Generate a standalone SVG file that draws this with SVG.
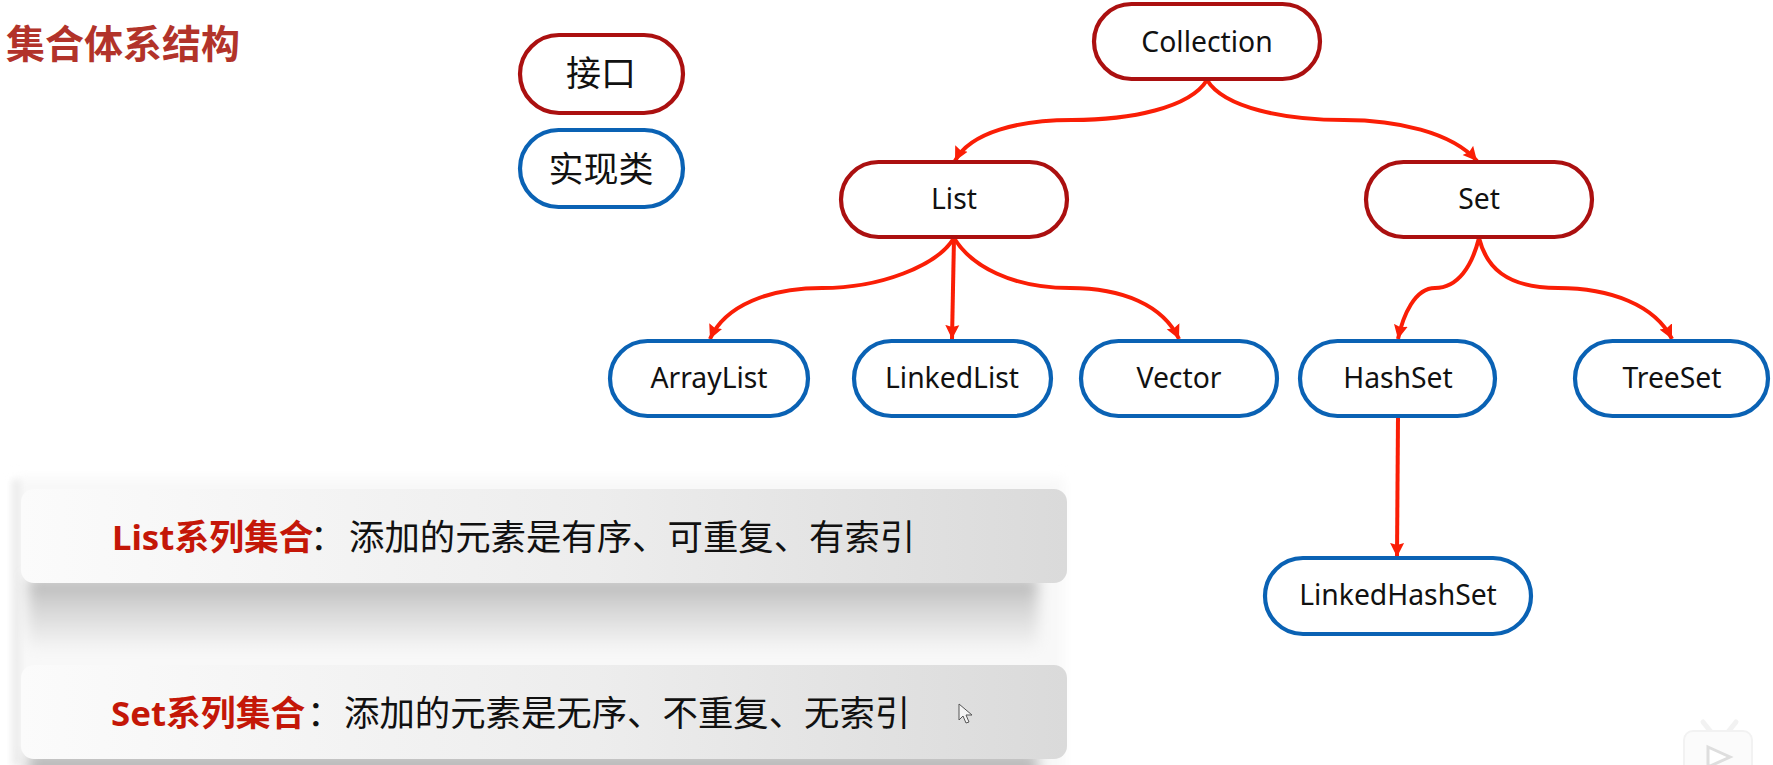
<svg xmlns="http://www.w3.org/2000/svg" width="1773" height="765" viewBox="0 0 1773 765">
<style>
text{font-family:"Noto Sans","Noto Sans CJK SC",sans-serif;fill:#111}
.n rect{fill:#fff;stroke-width:4.2}
.i rect{stroke:#ab1010}
.c rect{stroke:#0a62b4}
.n text{font-size:28.3px;text-anchor:middle}
.n text.z{font-size:35px}
.l{fill:none;stroke:#fa1e06;stroke-width:4;marker-end:url(#a)}
.t{font-size:35.4px}
.r{fill:#c41708;font-weight:700;font-size:34.8px}
</style>
<defs>
<marker id="a" markerUnits="userSpaceOnUse" markerWidth="16" markerHeight="16" refX="14" refY="8" orient="auto">
<path d="M0 1L14 8L0 15L2 8Z" fill="#fa1e06"/>
</marker>
<linearGradient id="g" x1="0" x2="1" y1="0" y2="0"><stop offset="0" stop-color="#fbfbfb"/><stop offset=".55" stop-color="#ededed"/><stop offset="1" stop-color="#dadada"/></linearGradient>
<linearGradient id="sh" x1="0" x2="0" y1="0" y2="1"><stop offset="0" stop-color="#b4b4b4"/><stop offset=".35" stop-color="#d2d2d2"/><stop offset="1" stop-color="#f6f6f6"/></linearGradient>
<filter id="f" x="-5%" y="-10%" width="110%" height="120%"><feGaussianBlur stdDeviation="6"/></filter>
<filter id="b" x="-5%" y="-20%" width="110%" height="140%"><feGaussianBlur stdDeviation="7"/></filter>
<filter id="s" x="-100%" y="-5%" width="300%" height="110%"><feGaussianBlur stdDeviation="3"/></filter>
</defs>
<rect width="1773" height="765" fill="#fff"/>
<text id="title" x="6" y="58" font-size="39" font-weight="700" style="fill:#b2332a">集合体系结构</text>
<g id="cards">
<rect x="14" y="478" width="1050" height="300" fill="#f8f8f8" filter="url(#f)"/>
<rect x="12" y="480" width="9" height="285" fill="#ededed" filter="url(#s)"/>
<rect x="28" y="578" width="1010" height="72" fill="url(#sh)" filter="url(#b)"/>
<rect x="28" y="752" width="1010" height="30" fill="#bcbcbc" filter="url(#b)"/>
<g id="card1"><rect x="21" y="489" width="1046" height="94" rx="13" fill="url(#g)"/>
<text class="t r" x="112" y="550">List系列集合</text><text class="t" x="310" y="550">：</text><text class="t" x="349" y="550">添加的元素是有序、可重复、有索引</text></g>
<g id="card2"><rect x="21" y="665" width="1046" height="94" rx="13" fill="url(#g)"/>
<text class="t r" x="111" y="726">Set系列集合</text><text class="t" x="307" y="726">：</text><text class="t" x="344" y="726">添加的元素是无序、不重复、无索引</text></g>
</g>
<g id="connectors">
<path class="l" d="M1207 80C1190 108 1130 120 1072 120C1020 120 970 132 955 161"/>
<path class="l" d="M1207 80C1224 108 1285 120 1344 120C1396 120 1452 132 1477 161"/>
<path class="l" d="M954 238C937 266 880 288 822 288C770 288 725 305 710 339"/>
<path class="l" d="M954 238L952 339"/>
<path class="l" d="M954 238C971 266 1012 288 1070 288C1122 288 1163 305 1179 339"/>
<path class="l" d="M1479 238C1472 266 1458 288 1435 288C1415 288 1403 315 1398 339"/>
<path class="l" d="M1479 238C1486 266 1505 288 1558 288C1610 288 1655 305 1672 339"/>
<path class="l" d="M1398 417L1397 557"/>
</g>
<g id="legend-interface" class="n i"><rect x="520" y="35" width="163" height="78" rx="39"/><text class="z" x="601" y="86">接口</text></g>
<g id="legend-impl" class="n c"><rect x="520" y="130" width="163" height="77" rx="38.5"/><text class="z" x="601" y="182">实现类</text></g>
<g id="collection" class="n i"><rect x="1094" y="4" width="226" height="75" rx="37.5"/><text x="1207" y="52">Collection</text></g>
<g id="list" class="n i"><rect x="841" y="162" width="226" height="75" rx="37.5"/><text x="954" y="209">List</text></g>
<g id="set" class="n i"><rect x="1366" y="162" width="226" height="75" rx="37.5"/><text x="1479" y="209">Set</text></g>
<g id="arraylist" class="n c"><rect x="610" y="341" width="198" height="75" rx="37.5"/><text x="709" y="388">ArrayList</text></g>
<g id="linkedlist" class="n c"><rect x="854" y="341" width="197" height="75" rx="37.5"/><text x="952" y="388">LinkedList</text></g>
<g id="vector" class="n c"><rect x="1081" y="341" width="196" height="75" rx="37.5"/><text x="1179" y="388">Vector</text></g>
<g id="hashset" class="n c"><rect x="1300" y="341" width="195" height="75" rx="37.5"/><text x="1398" y="388">HashSet</text></g>
<g id="treeset" class="n c"><rect x="1575" y="341" width="193" height="75" rx="37.5"/><text x="1672" y="388">TreeSet</text></g>
<g id="linkedhashset" class="n c"><rect x="1265" y="558" width="266" height="76" rx="38"/><text x="1398" y="605">LinkedHashSet</text></g>
<path id="cursor" d="M959 704L959 720L963 716L966 723L969 722L966 715L972 715Z" fill="#f4f4f4" stroke="#555" stroke-width="1"/>
<g id="watermark"><path d="M1703 722L1711 732M1736 722L1728 732" stroke="#f2f2f2" stroke-width="5" stroke-linecap="round"/><rect x="1684" y="731" width="68" height="50" rx="9" fill="#fbfbfb" stroke="#f2f2f2" stroke-width="2"/><path d="M1708 747L1730 757L1708 767Z" fill="#fff" stroke="#dedede" stroke-width="3"/></g>
</svg>
